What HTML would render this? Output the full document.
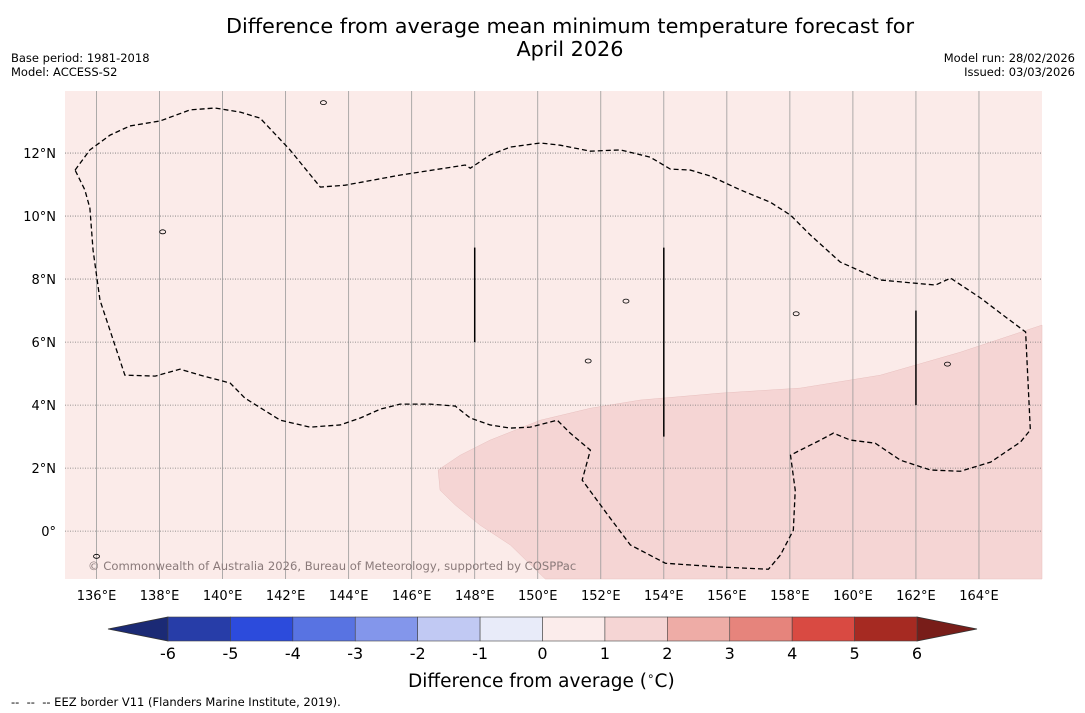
<!DOCTYPE html>
<html><head><meta charset="utf-8"><style>
body{margin:0;background:#fff;font-family:"Liberation Sans","DejaVu Sans",sans-serif;}
#wrap{position:relative;width:1085px;height:713px;overflow:hidden;}
.t{position:absolute;white-space:nowrap;}
</style></head><body>
<div id="wrap">
<div class="t" style="left:0;width:1140px;top:15px;text-align:center;font-size:20.8px;line-height:23px;font-family:'DejaVu Sans',sans-serif;">Difference from average mean minimum temperature forecast for<br>April 2026</div>
<div class="t" style="left:11px;top:51px;font-size:11.5px;line-height:14px;font-family:'DejaVu Sans',sans-serif;">Base period: 1981-2018<br>Model: ACCESS-S2</div>
<div class="t" style="right:10px;top:51px;font-size:11.5px;line-height:14px;text-align:right;font-family:'DejaVu Sans',sans-serif;">Model run: 28/02/2026<br>Issued: 03/03/2026</div>
<div class="t" style="left:408px;top:669px;font-size:18.5px;font-family:'DejaVu Sans',sans-serif;">Difference from average (<sup style="font-size:12px">∘</sup>C)</div>
<div class="t" style="left:11px;top:695px;font-size:11.5px;font-family:'DejaVu Sans',sans-serif;">--&nbsp; --&nbsp; -- EEZ border V11 (Flanders Marine Institute, 2019).</div>
<svg id="svg" width="1085" height="713" style="position:absolute;left:0;top:0"></svg>
</div>
<script>
const lonTicks=[136,138,140,142,144,146,148,150,152,154,156,158,160,162,164];
const latTicks=[0,2,4,6,8,10,12];
const cbLevels=[-6,-5,-4,-3,-2,-1,0,1,2,3,4,5,6];
const cbColors=["#273da8","#2c4bdc","#5873e2","#8396eb","#c1c9f3","#e8ebf9","#fbeceb","#f5d5d4","#eeaca6","#e6847c","#d94a42","#a62a22"];
const cbLow="#1b2a75", cbHigh="#781d19";
const bgColor="#fbebe9", warmColor="#f5d5d4";
const warmRegion=[[166,6.54],[163.41,5.68],[160.87,4.95],[158.33,4.54],[155.79,4.38],[153.25,4.16],[151.67,3.9],[150.08,3.52],[148.49,2.89],[147.54,2.41],[146.84,1.94],[146.9,1.3],[147.38,0.83],[148.17,0.19],[149.13,-0.44],[150.24,-1.52],[166,-1.52]];
const eez=[[135.32,11.46],[135.79,12.1],[136.43,12.57],[137.06,12.86],[138.02,13.02],[138.97,13.37],[139.76,13.43],[140.56,13.3],[141.19,13.11],[142.14,12.1],[143.1,10.92],[143.89,10.98],[145.63,11.3],[147.7,11.62],[147.86,11.52],[148.49,11.94],[149.13,12.19],[150.08,12.32],[150.71,12.25],[151.67,12.06],[152.62,12.1],[153.57,11.87],[154.21,11.49],[154.84,11.46],[155.48,11.27],[156.43,10.83],[157.38,10.44],[158.02,10.03],[158.65,9.4],[159.6,8.54],[160.87,7.97],[162.62,7.81],[163.1,8.03],[164.05,7.4],[164.68,6.92],[165.48,6.32],[165.63,3.21],[165.32,2.83],[164.37,2.19],[163.41,1.9],[162.46,1.94],[161.51,2.25],[160.71,2.79],[159.92,2.89],[159.38,3.11],[158.97,2.89],[158.33,2.57],[158.02,2.41],[158.17,1.3],[158.11,0.03],[157.7,-0.76],[157.32,-1.21],[155.79,-1.14],[154.05,-1.02],[152.94,-0.44],[152.3,0.41],[151.41,1.62],[151.67,2.57],[151.03,3.11],[150.62,3.52],[149.76,3.3],[149.13,3.27],[148.49,3.37],[147.86,3.59],[147.38,3.97],[146.59,4.03],[145.63,4.03],[145.0,3.87],[144.37,3.59],[143.73,3.37],[142.78,3.3],[141.83,3.52],[140.71,4.22],[140.24,4.7],[139.29,4.95],[138.65,5.14],[137.86,4.92],[136.9,4.95],[136.11,7.33],[135.89,8.92],[135.79,10.25],[135.63,10.83],[135.32,11.46]];
const vlines=[[148,6,9],[154,3,9],[162,4,7]];
const islands=[[143.2,13.6],[138.1,9.5],[152.8,7.3],[158.2,6.9],[163.0,5.3],[151.6,5.4],[136.0,-0.8]];

const NS="http://www.w3.org/2000/svg";
const svg=document.getElementById('svg');
const L=65,R=1042,T=91,B=579,lon0=135,lon1=166,lat0=-1.52,lat1=13.97;
const xs=lon=>L+(lon-lon0)/(lon1-lon0)*(R-L);
const ys=lat=>B-(lat-lat0)/(lat1-lat0)*(B-T);
function mk(tag,attrs,parent){const e=document.createElementNS(NS,tag);for(const k in attrs)e.setAttribute(k,attrs[k]);(parent||svg).appendChild(e);return e;}
let e;
e=mk('rect',{x:L,y:T,width:R-L,height:B-T,fill:bgColor});


e=mk('polygon',{points:warmRegion.map(p=>xs(p[0])+','+ys(p[1])).join(' '),fill:warmColor,stroke:'#e8c0bf','stroke-width':0.5});


lonTicks.forEach(lon=>{
 e=mk('line',{x1:xs(lon),x2:xs(lon),y1:T,y2:B,stroke:'#999','stroke-width':0.8});
 
 
 e=mk('text',{x:xs(lon),y:600,'text-anchor':'middle','font-size':13,'font-family':'DejaVu Sans,sans-serif'});e.textContent=lon+'°E';
 
 
});
latTicks.forEach(lat=>{
 e=mk('line',{x1:L,x2:R,y1:ys(lat),y2:ys(lat),stroke:'#777','stroke-width':0.8,'stroke-dasharray':'1,1.5'});
 
 
 e=mk('text',{x:56,y:ys(lat)+5,'text-anchor':'end','font-size':13,'font-family':'DejaVu Sans,sans-serif'});e.textContent=lat===0?'0°':lat+'°N';
 
 
});
e=mk('polyline',{points:eez.map(p=>xs(p[0])+','+ys(p[1])).join(' '),fill:'none',stroke:'#000','stroke-width':1.3,'stroke-dasharray':'5,3'});


vlines.forEach(v=>{
 e=mk('line',{x1:xs(v[0]),x2:xs(v[0]),y1:ys(v[1]),y2:ys(v[2]),stroke:'#000','stroke-width':1.5});
 
 
});
islands.forEach(p=>{
 e=mk('ellipse',{cx:xs(p[0]),cy:ys(p[1]),rx:3,ry:2,fill:'none',stroke:'#000','stroke-width':0.8});
 
 
});
e=mk('text',{x:88,y:570,'font-size':11.6,fill:'#8a7a7a','font-family':'DejaVu Sans,sans-serif'});e.textContent='© Commonwealth of Australia 2026, Bureau of Meteorology, supported by COSPPac';


const cL=168,cR=917,cT=617,cB=641,cw=(cR-cL)/(cbLevels.length-1);
e=mk('polygon',{points:`108,629 ${cL},${cT} ${cL},${cB}`,fill:cbLow,stroke:'#333','stroke-width':0.8});


e=mk('polygon',{points:`977,629 ${cR},${cT} ${cR},${cB}`,fill:cbHigh,stroke:'#333','stroke-width':0.8});


cbColors.forEach((c,i)=>{
 e=mk('rect',{x:cL+i*cw,y:cT,width:cw,height:cB-cT,fill:c,stroke:'#444','stroke-width':0.6});
 
 
});
cbLevels.forEach((v,i)=>{
 e=mk('text',{x:cL+i*cw,y:659,'text-anchor':'middle','font-size':16,'font-family':'DejaVu Sans,sans-serif'});e.textContent=v;
 
 
});
</script>
</body></html>
